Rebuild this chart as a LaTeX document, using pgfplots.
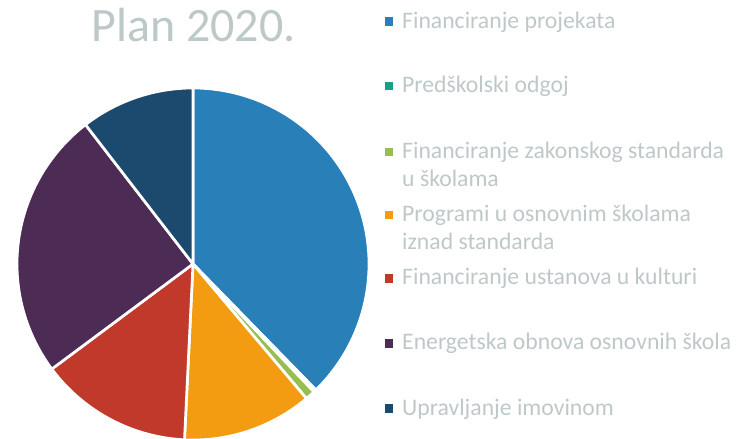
\documentclass[border=0pt]{standalone}
\usepackage{pgfplots}
\pgfplotsset{compat=1.18}
\usepackage{fontspec}
\setmainfont{Carlito}
\definecolor{txt}{RGB}{190,200,201}
\definecolor{cA}{RGB}{41,128,185}
\definecolor{cB}{RGB}{22,160,133}
\definecolor{cC}{RGB}{150,190,80}
\definecolor{cD}{RGB}{243,156,18}
\definecolor{cE}{RGB}{192,57,43}
\definecolor{cF}{RGB}{76,43,85}
\definecolor{cG}{RGB}{27,74,110}
% shares in percent (clockwise from 12 o'clock)
\pgfmathsetmacro\aA{0}
\pgfmathsetmacro\aB{\aA+3.6*37.70}
\pgfmathsetmacro\aC{\aB+3.6*0.25}
\pgfmathsetmacro\aD{\aC+3.6*0.90}
\pgfmathsetmacro\aE{\aD+3.6*11.92}
\pgfmathsetmacro\aF{\aE+3.6*14.05}
\pgfmathsetmacro\aG{\aF+3.6*24.72}
\pgfmathsetmacro\aH{\aG+3.6*10.46}
\begin{document}
\begin{tikzpicture}
\path[use as bounding box] (0bp,0bp) rectangle (740bp,439bp);
\begin{axis}[at={(17bp,-1bp)}, anchor=south west, scale only axis,
  width=352bp, height=352bp, xmin=-1, xmax=1, ymin=-1, ymax=1,
  hide axis, clip=false]
\pgfplotsset{every axis plot/.append style={draw=white, line width=2.7bp, line join=round, samples=120, variable=\t}}
\addplot[fill=cA, domain=\aA:\aB] ({sin(\t)},{cos(\t)}) -- (axis cs:0,0) -- cycle;
\addplot[fill=cB, domain=\aB:\aC] ({sin(\t)},{cos(\t)}) -- (axis cs:0,0) -- cycle;
\addplot[fill=cC, domain=\aC:\aD] ({sin(\t)},{cos(\t)}) -- (axis cs:0,0) -- cycle;
\addplot[fill=cD, domain=\aD:\aE] ({sin(\t)},{cos(\t)}) -- (axis cs:0,0) -- cycle;
\addplot[fill=cE, domain=\aE:\aF] ({sin(\t)},{cos(\t)}) -- (axis cs:0,0) -- cycle;
\addplot[fill=cF, domain=\aF:\aG] ({sin(\t)},{cos(\t)}) -- (axis cs:0,0) -- cycle;
\addplot[fill=cG, domain=\aG:\aH] ({sin(\t)},{cos(\t)}) -- (axis cs:0,0) -- cycle;
\end{axis}
\node[anchor=base, text=txt, inner sep=0pt, font=\fontsize{48bp}{56bp}\selectfont] at (193.5bp,397bp) {Plan 2020.};
\begin{scope}[every node/.style={anchor=base west, text=txt, inner sep=0pt, font=\fontsize{23.7bp}{28bp}\selectfont}]
\newcommand\sq[2]{\fill[#1] (384.7bp,{(439-#2+6.6-4.3)*1bp}) rectangle ++(8.6bp,8.6bp);}
\sq{cA}{28.3} \node at (402bp,410.7bp) {Financiranje projekata};
\sq{cB}{92.6} \node at (402bp,346.4bp) {Predškolski odgoj};
\sq{cC}{158.6} \node at (402bp,280.4bp) {Financiranje zakonskog standarda};
\node at (402bp,252.4bp) {u školama};
\sq{cD}{221.6} \node at (402bp,217.4bp) {Programi u osnovnim školama};
\node at (402bp,189.4bp) {iznad standarda};
\sq{cE}{285} \node at (402bp,154bp) {Financiranje ustanova u kulturi};
\sq{cF}{350} \node at (402bp,89bp) {Energetska obnova osnovnih škola};
\sq{cG}{415} \node at (402bp,24bp) {Upravljanje imovinom};
\end{scope}
\end{tikzpicture}
\end{document}
